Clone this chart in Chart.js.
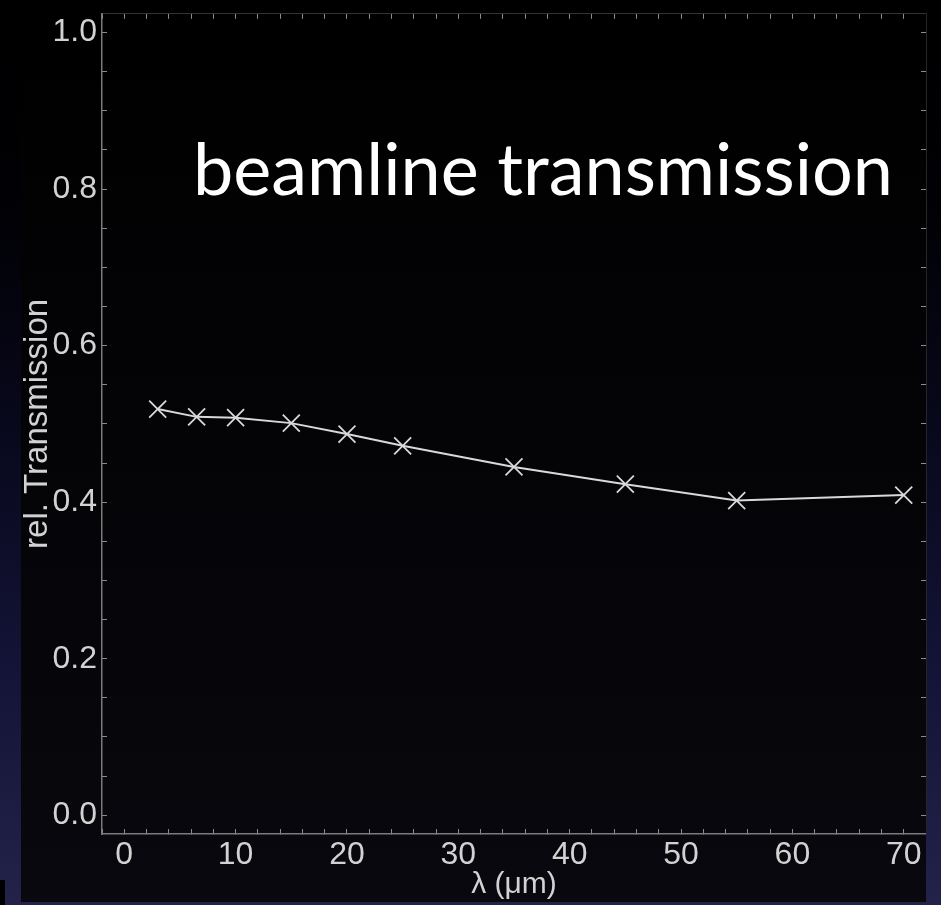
<!DOCTYPE html>
<html>
<head>
<meta charset="utf-8">
<script src="https://cdn.jsdelivr.net/npm/chart.js@4/dist/chart.umd.min.js"></script>
<style>
  html, body { margin: 0; padding: 0; }
  body {
    width: 941px; height: 905px; overflow: hidden;
    background: linear-gradient(to bottom, #000000 0%, #010106 25%, #09091f 50%, #141438 75%, #23234a 100%);
  }
  #wrap { position: absolute; left: 0; top: 0; width: 941px; height: 905px; }
</style>
</head>
<body>
<div id="wrap"><canvas id="chart" width="941" height="905"></canvas></div>
<script>
// Wavelength (µm) and relative beamline transmission
const wavelengths = [3, 6.5, 10, 15, 20, 25, 35, 45, 55, 70];
const transmission = [0.519, 0.509, 0.508, 0.501, 0.487, 0.472, 0.445, 0.423, 0.402, 0.409];

const chartTitle = 'beamline transmission';
const xTitle = 'λ (μm)';
const yTitle = 'rel. Transmission';

const tickFont = { family: '"Liberation Sans", Arial, Helvetica, sans-serif', size: 32 };
const labelColor = '#d2d2d2';
const tickColor = '#8c8c8c';

// x: label every 10, tick mark every 2
function xLabel(v) { return Math.abs(v % 10) < 1e-9 ? String(v) : ''; }
// y: label every 0.2, tick mark every 0.05
function yLabel(v) {
  const r = Math.round(v * 5);
  return Math.abs(v * 5 - r) < 1e-6 ? (r / 5).toFixed(1) : '';
}

function axisGrid() {
  return { drawOnChartArea: false, drawTicks: true, tickLength: -5, tickColor: tickColor, tickWidth: 1 };
}

// keep the plot frame fixed: no extra room reserved for overhanging labels
function noOverhang(s) {
  s.paddingLeft = 0; s.paddingRight = 0; s.paddingTop = 0; s.paddingBottom = 0;
}

// dark plot panel behind the axes, plus the heading inside the plot
const panelPlugin = {
  id: 'panel',
  beforeDraw(chart) {
    const ctx = chart.ctx;
    ctx.save();
    const g = ctx.createLinearGradient(0, 0, 0, 902);
    g.addColorStop(0, '#000000');
    g.addColorStop(1, '#08080e');
    ctx.fillStyle = g;
    ctx.fillRect(21, 0, 905, 902);
    ctx.fillStyle = '#000';
    ctx.fillRect(0, 880, 5, 25);
    ctx.restore();
  },
  afterDraw(chart) {
    const ctx = chart.ctx;
    ctx.save();
    ctx.font = '72px Lato, "Open Sans", sans-serif';
    ctx.fillStyle = '#ffffff';
    ctx.textBaseline = 'alphabetic';
    ctx.textAlign = 'left';
    ctx.fillText(chartTitle, 193, 195);
    ctx.restore();
  }
};

new Chart(document.getElementById('chart'), {
  type: 'line',
  data: {
    datasets: [{
      data: wavelengths.map((x, i) => ({ x: x, y: transmission[i] })),
      borderColor: '#d9d9d9',
      borderWidth: 2,
      pointStyle: 'crossRot',
      pointRadius: 12,
      pointBorderWidth: 1.8,
      pointBorderColor: '#d9d9d9',
      pointBackgroundColor: '#d9d9d9',
      tension: 0,
      clip: false
    }]
  },
  options: {
    responsive: false,
    devicePixelRatio: 1,
    animation: false,
    layout: { padding: { left: 0, top: 12, right: 15, bottom: 0 } },
    plugins: { legend: { display: false }, tooltip: { enabled: false }, title: { display: false } },
    scales: {
      x: {
        type: 'linear', position: 'bottom', min: -2, max: 72,
        ticks: { stepSize: 2, autoSkip: false, includeBounds: false, maxRotation: 0, padding: 7,
                 color: labelColor, font: tickFont, callback: xLabel, maxTicksLimit: 1000 },
        grid: axisGrid(),
        border: { color: '#7a7a7a', width: 1.5 },
        title: { display: true, text: xTitle, color: labelColor,
                 font: { family: tickFont.family, size: 30 }, padding: { top: 0, bottom: 2 } },
        afterFit(s) { s.height = 71; noOverhang(s); }
      },
      xTop: {
        type: 'linear', axis: 'x', position: 'top', min: -2, max: 72,
        ticks: { display: false, stepSize: 2, autoSkip: false, includeBounds: false, maxTicksLimit: 1000 },
        grid: axisGrid(),
        border: { color: '#333333', width: 1 },
        afterFit(s) { s.height = 0; noOverhang(s); }
      },
      y: {
        type: 'linear', position: 'left', min: -0.024, max: 1.024,
        ticks: { stepSize: 0.05, autoSkip: false, includeBounds: false, padding: 10,
                 color: labelColor, font: tickFont, callback: yLabel, maxTicksLimit: 1000 },
        grid: axisGrid(),
        border: { color: '#7a7a7a', width: 1.5 },
        title: { display: true, text: yTitle, color: labelColor,
                 font: { family: tickFont.family, size: 33 }, padding: { top: 18, bottom: 0 } },
        afterFit(s) { s.width = 102; noOverhang(s); }
      },
      yRight: {
        type: 'linear', axis: 'y', position: 'right', min: -0.024, max: 1.024,
        ticks: { display: false, stepSize: 0.05, autoSkip: false, includeBounds: false, maxTicksLimit: 1000 },
        grid: axisGrid(),
        border: { color: '#262626', width: 1 },
        afterFit(s) { s.width = 0; noOverhang(s); }
      }
    }
  },
  plugins: [panelPlugin]
});
</script>
</body>
</html>
